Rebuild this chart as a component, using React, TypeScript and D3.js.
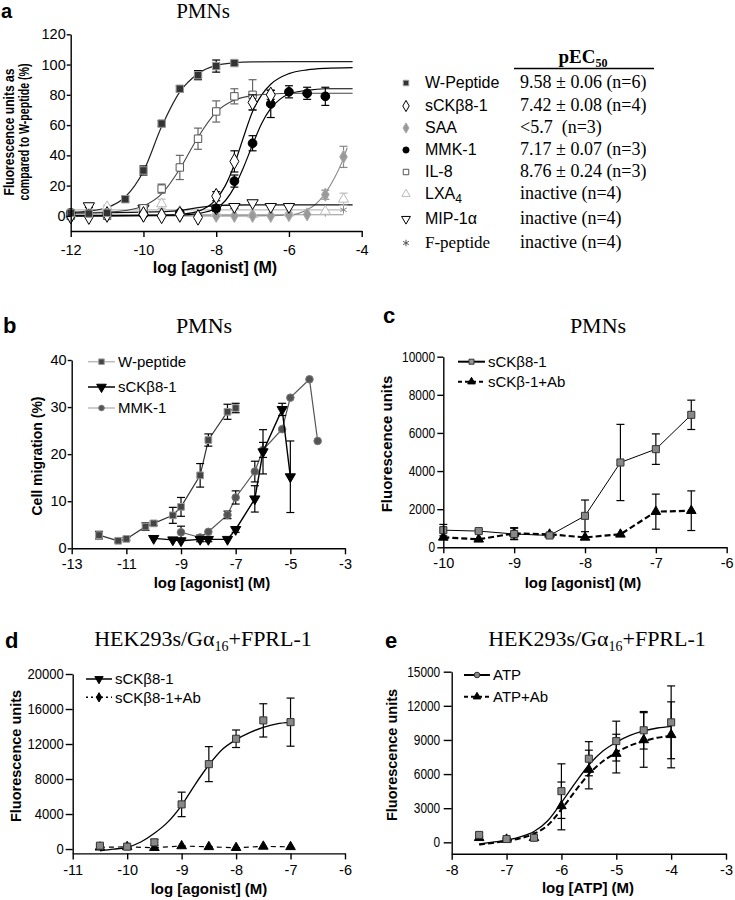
import React, { useEffect, useRef } from "react";
import * as d3 from "d3";

// points are [log dose, mean, error]; fit lines are [log dose, value]

// ---- panel a: PMNs, fluorescence as % of W-peptide ----
const aWPeptide = [[-12, 2, 0], [-11.5, 1.5, 0], [-11, 2, 0.5], [-10.5, 11, 2], [-10, 30, 3], [-9.5, 61, 2], [-9, 84, 2], [-8.5, 93, 3], [-8, 99, 4], [-7.5, 101, 1]];
const aSck = [[-12, 0, 0], [-11.5, -0.5, 0], [-11, 1, 0], [-10, 1, 0], [-9.5, 0, 0], [-9, 1, 0], [-8.5, -1, 0], [-8, 13, 3], [-7.5, 36, 7], [-7, 75, 5], [-6.5, 80, 3]];
const aSaa = [[-12, -1, 0], [-11, 0, 0], [-10, 0, 0], [-9.5, 1, 0], [-9, 0, 0], [-8.5, -0.5, 0], [-8, 0, 0], [-7.5, 0, 0], [-7, 0, 0], [-6.5, 0, 0], [-6, 0.5, 0], [-5.5, 1, 0], [-5, 14, 3], [-4.5, 39, 7]];
const aMmk = [[-12, 2, 0], [-10, 1, 0], [-9, 2, 0], [-8, 5, 2], [-7.5, 23, 4], [-7, 48, 5], [-6.5, 74, 9], [-6, 82, 4], [-5.5, 81, 4], [-5, 79, 6]];
const aIl8 = [[-12, 0, 0], [-11, 0, 0], [-10, 5, 2], [-9.5, 18, 3], [-9, 32, 8], [-8.5, 51, 7], [-8, 69, 7], [-7.5, 79, 5], [-7, 80, 10]];
const aLxa4 = [[-12, 1, 0], [-11, 6, 1], [-10, 4, 0], [-9.5, 8, 3], [-9, 3, 0], [-8, 2, 0], [-7, 1, 0], [-6, 2, 0], [-5, 3, 0], [-4.5, 11, 4]];
const aMip = [[-11.5, 6.5, 1], [-10, 5, 0], [-8, 5, 0], [-7.5, 6, 1], [-7, 8.5, 0], [-6.5, 6, 0], [-6, 6, 0]];
const aFPeptide = [[-12, 0, 0], [-11, 1, 0], [-10, 0.5, 0], [-9, 1, 0], [-8, 0, 0], [-7, 0.5, 0], [-6, 1, 0], [-5, 2, 0], [-4.5, 4, 0]];

const aWPeptideFit = [[-12, 2.4], [-11.5, 3.2], [-11, 5.5], [-10.5, 12.5], [-10, 29.5], [-9.5, 59], [-9, 82], [-8.5, 94], [-8, 99.5], [-7.5, 101.2], [-7, 101.8], [-6, 102], [-4.25, 102]];
const aIl8Fit = [[-12, 2], [-11, 2.5], [-10.5, 3.5], [-10, 6.5], [-9.5, 14.5], [-9, 31], [-8.5, 52], [-8, 68.5], [-7.5, 76.5], [-7, 79.5], [-6.5, 80.5], [-6, 81], [-4.25, 81]];
const aSckFit = [[-12, 0], [-9.5, 0.3], [-9, 1], [-8.5, 3], [-8, 11], [-7.75, 20], [-7.5, 34], [-7.25, 52], [-7, 69], [-6.75, 80], [-6.5, 87], [-6, 94], [-5.5, 96.5], [-5, 97.5], [-4.25, 98]];
const aMmkFit = [[-12, 0], [-9, 0.5], [-8.5, 1.5], [-8, 5], [-7.75, 10], [-7.5, 19], [-7.25, 32], [-7, 47], [-6.75, 61], [-6.5, 71], [-6.25, 77], [-6, 80.5], [-5.5, 83], [-5, 84], [-4.25, 84]];
const aSaaFit = [[-12, 0], [-7, 0], [-6, 0.5], [-5.75, 1.5], [-5.5, 4], [-5.25, 8], [-5, 15], [-4.75, 25], [-4.5, 38], [-4.4, 45]];
const aLxa4Fit = [[-12, 4], [-4.5, 4]];
const aMipFit = [[-12, 2], [-10, 2.5], [-9, 3.5], [-8.5, 5.5], [-8, 6.8], [-7.5, 7.2], [-4.25, 7.3]];
const aFPeptideFit = [[-12, 0.7], [-4.5, 0.7]];

const aNames = ["W-Peptide", "sCKβ8-1", "SAA", "MMK-1", "IL-8", "LXA", "MIP-1α", "F-peptide"];
const aValues = ["9.58 ± 0.06 (n=6)", "7.42 ± 0.08 (n=4)", "<5.7\u00a0 (n=3)", "7.17 ± 0.07 (n=3)", "8.76 ± 0.24 (n=3)", "inactive (n=4)", "inactive (n=4)", "inactive (n=4)"];
const aXTicks = [-12, -10, -8, -6, -4];
const aYTicks = [0, 20, 40, 60, 80, 100, 120];

// ---- panel b: PMNs, cell migration ----
const bWPeptide = [[-12, 2.8, 0.8], [-11.3, 1.6, 0.3], [-11, 2.0, 0.3], [-10.3, 4.6, 0.8], [-10, 5.3, 0.5], [-9.3, 7.0, 1.7], [-9, 8.8, 2], [-8.3, 15.5, 2.5], [-8, 23, 1.3], [-7.3, 29, 1.6], [-7, 29.8, 1]];
const bSck = [[-10, 2.1, 0], [-9.3, 1.8, 0], [-9, 1.6, 0], [-8.3, 1.9, 0.5], [-8, 1.9, 0.5], [-7.3, 1.9, 0], [-7, 4, 0.6], [-6.3, 10.5, 2.8], [-6, 20.5, 4.7], [-5.3, 29.5, 1.3], [-5, 15.2, 7.6]];
const bMmk = [[-9, 3.4, 1.3], [-8.3, 2.3, 0.5], [-8, 3.5, 0], [-7.3, 7.1, 0.8], [-7, 10.8, 1.4], [-6.3, 16.3, 2.2], [-6, 20.9, 1.6], [-5.3, 25.3, 0], [-5, 32, 0], [-4.3, 35.9, 0], [-4, 22.8, 0]];
const bNames = ["W-peptide", "sCKβ8-1", "MMK-1"];
const bXTicks = [-13, -11, -9, -7, -5, -3];
const bYTicks = [0, 10, 20, 30, 40];

// ---- panel c: PMNs, fluorescence ----
const cSck = [[-10, 900, 300], [-9.5, 850, 80], [-9, 700, 300], [-8.5, 620, 80], [-8, 1650, 830], [-7.5, 4450, 2000], [-7, 5150, 800], [-6.5, 6950, 770]];
const cSckAb = [[-10, 520, 0], [-9.5, 420, 0], [-9, 730, 300], [-8.5, 680, 0], [-8, 520, 0], [-7.5, 680, 0], [-7, 1870, 920], [-6.5, 1920, 1040]];
const cNames = ["sCKβ8-1", "sCKβ-1+Ab"];
const cXTicks = [-10, -9, -8, -7, -6];
const cYTicks = [0, 2000, 4000, 6000, 8000, 10000];

// ---- panel d: HEK293s/Ga16+FPRL-1, sCKb8-1 ----
const dSck = [[-10.5, 380, 150], [-10, 270, 100], [-9.5, 760, 350], [-9, 5100, 1400], [-8.5, 9700, 2000], [-8, 12600, 1000], [-7.5, 14700, 1900], [-7, 14500, 2750]];
const dSckFit = [[-10.5, -200], [-10.25, -20], [-10, 190], [-9.75, 800], [-9.5, 1800], [-9.25, 3100], [-9, 5000], [-8.75, 7400], [-8.5, 9600], [-8.25, 11400], [-8, 12500], [-7.75, 13300], [-7.5, 13900], [-7.25, 14300], [-7, 14500]];
const dSckAb = [[-10.5, 200, 0], [-10, 250, 0], [-9.5, 150, 0], [-9, 350, 0], [-8.5, 250, 0], [-8, 150, 0], [-7.5, 300, 0], [-7, 250, 0]];
const dNames = ["sCKβ8-1", "sCKβ8-1+Ab"];
const dXTicks = [-11, -10, -9, -8, -7, -6];
const dYTicks = [0, 4000, 8000, 12000, 16000, 20000];

// ---- panel e: HEK293s/Ga16+FPRL-1, ATP ----
const eAtp = [[-7.5, 650, 200], [-7, 290, 100], [-6.5, 400, 150], [-6, 4500, 2400], [-5.5, 7350, 1500], [-5, 8900, 1750], [-4.5, 9850, 1650], [-4, 10550, 3200]];
const eAtpAb = [[-7.5, 400, 150], [-7, 260, 100], [-6.5, 400, 150], [-6, 3200, 2100], [-5.5, 6400, 1700], [-5, 7800, 1700], [-4.5, 9000, 2400], [-4, 9450, 2900]];
const eAtpFit = [[-7.5, -150], [-7.25, 20], [-7, 200], [-6.75, 480], [-6.5, 950], [-6.25, 1900], [-6, 3500], [-5.75, 5200], [-5.5, 6800], [-5.25, 8000], [-5, 8800], [-4.75, 9400], [-4.5, 9800], [-4.25, 10050], [-4, 10200]];
const eAtpAbFit = [[-7.5, -200], [-7.25, -50], [-7, 120], [-6.75, 350], [-6.5, 750], [-6.25, 1500], [-6, 2900], [-5.75, 4500], [-5.5, 6000], [-5.25, 7100], [-5, 7900], [-4.75, 8500], [-4.5, 8900], [-4.25, 9200], [-4, 9350]];
const eNames = ["ATP", "ATP+Ab"];
const eXTicks = [-8, -7, -6, -5, -4, -3];
const eYTicks = [0, 3000, 6000, 9000, 12000, 15000];

const sans = "'Liberation Sans', Arial, Helvetica, sans-serif";
const serif = "'Liberation Serif', 'Times New Roman', Times, serif";

const symbols: any = {
  square: d3.symbolSquare,
  diamond: d3.symbolDiamond,
  circle: d3.symbolCircle,
  triangle: d3.symbolTriangle,
  triangleDown: d3.symbolTriangle,
  asterisk: d3.symbolAsterisk,
};

function marker(g: any, type: string, x: number, y: number, size: number, fill: string, stroke: string, sw = 1) {
  g.append("path")
    .attr("d", d3.symbol().type(symbols[type]).size(size)())
    .attr("transform", `translate(${x},${y})${type === "triangleDown" ? " rotate(180)" : ""}`)
    .attr("fill", fill)
    .attr("stroke", stroke)
    .attr("stroke-width", sw);
}

function axes(svg: any, x: any, y: any, xTicks: number[], yTicks: number[], o: any) {
  const gx = svg.append("g")
    .attr("transform", `translate(0,${y.range()[0]})`)
    .call(d3.axisBottom(x).tickValues(xTicks).tickSize(6).tickPadding(o.xPad).tickSizeOuter(0).tickFormat((d: any) => String(d)));
  const gy = svg.append("g")
    .attr("transform", `translate(${x.range()[0]},0)`)
    .call(d3.axisLeft(y).tickValues(yTicks).tickSize(o.yTick).tickPadding(o.yPad).tickSizeOuter(0).tickFormat((d: any) => String(d)));
  [gx, gy].forEach((g) => {
    g.select(".domain").attr("stroke", "#000").attr("stroke-width", 1.4);
    g.selectAll(".tick line").attr("stroke", "#000").attr("stroke-width", 1.4);
    g.selectAll("text").attr("font-family", sans).attr("font-size", 14.5).attr("fill", "#000");
  });
  gy.selectAll("text").attr("transform", `scale(${o.yScale},1)`);
}

function fitLine(g: any, x: any, y: any, pts: number[][], color: string, width: number, dash?: string) {
  g.append("path")
    .datum(pts)
    .attr("d", d3.line().x((d: any) => x(d[0])).y((d: any) => y(d[1])).curve(d3.curveMonotoneX))
    .attr("fill", "none")
    .attr("stroke", color)
    .attr("stroke-width", width)
    .attr("stroke-dasharray", dash || null);
}

function points(g: any, x: any, y: any, pts: number[][], m: any) {
  if (m.line) {
    g.append("path")
      .datum(pts)
      .attr("d", d3.line().x((d: any) => x(d[0])).y((d: any) => y(d[1])))
      .attr("fill", "none")
      .attr("stroke", m.line)
      .attr("stroke-width", m.lineWidth || 1.2)
      .attr("stroke-dasharray", m.dash || null);
  }
  pts.forEach((p) => {
    if (!p[2]) return;
    const px = x(p[0]);
    const y1 = y(p[1] - p[2]);
    const y2 = y(p[1] + p[2]);
    g.append("line").attr("x1", px).attr("x2", px).attr("y1", y1).attr("y2", y2).attr("stroke", m.err || "#000").attr("stroke-width", 1.2);
    [y1, y2].forEach((yy) => {
      g.append("line").attr("x1", px - 4).attr("x2", px + 4).attr("y1", yy).attr("y2", yy).attr("stroke", m.err || "#000").attr("stroke-width", 1.2);
    });
  });
  pts.forEach((p) => marker(g, m.type, x(p[0]), y(p[1]), m.size, m.fill, m.stroke, m.sw || 1));
}

function title(svg: any, cx: number, y: number, text: string, size: number) {
  svg.append("text").attr("x", cx).attr("y", y).attr("text-anchor", "middle")
    .attr("font-family", serif).attr("font-size", size).text(text);
}

function hekTitle(svg: any, cx: number, y: number) {
  const t = svg.append("text").attr("x", cx).attr("y", y).attr("text-anchor", "middle")
    .attr("font-family", serif).attr("font-size", 22);
  t.append("tspan").text("HEK293s/Gα");
  t.append("tspan").attr("dy", 5).attr("font-size", 14).text("16");
  t.append("tspan").attr("dy", -5).text("+FPRL-1");
}

function letter(svg: any, x: number, y: number, s: string, size = 22) {
  svg.append("text").attr("x", x).attr("y", y).attr("font-family", sans).attr("font-weight", "bold").attr("font-size", size).text(s);
}

function xLabel(svg: any, cx: number, y: number, s: string, size: number) {
  svg.append("text").attr("x", cx).attr("y", y).attr("text-anchor", "middle")
    .attr("font-family", sans).attr("font-weight", "bold").attr("font-size", size).text(s);
}

function yLabel(svg: any, bx: number, cy: number, s: string, size: number, len?: number) {
  const t = svg.append("text").attr("transform", `translate(${bx},${cy}) rotate(-90)`).attr("text-anchor", "middle")
    .attr("font-family", sans).attr("font-weight", "bold").attr("font-size", size).text(s);
  if (len) t.attr("textLength", len).attr("lengthAdjust", "spacingAndGlyphs");
}

function legendRow(svg: any, x1: number, x2: number, cy: number, text: string, m: any) {
  svg.append("line").attr("x1", x1).attr("x2", x2).attr("y1", cy).attr("y2", cy)
    .attr("stroke", m.line).attr("stroke-width", m.lineWidth || 1.5).attr("stroke-dasharray", m.dash || null);
  marker(svg, m.type, (x1 + x2) / 2, cy, m.size, m.fill, m.stroke, m.sw || 1);
  svg.append("text").attr("x", x2 + 3).attr("y", cy + 5.4).attr("font-family", sans).attr("font-size", 15).text(text);
}

function App() {
  const ref = useRef<SVGSVGElement>(null);

  useEffect(() => {
    const svg = d3.select(ref.current);
    svg.selectAll("*").remove();

    // ===== panel a =====
    const ax = d3.scaleLinear().domain([-12, -4]).range([70.7, 361.7]);
    const ay = d3.scaleLinear().domain([-10, 120]).range([231, 34.3]);
    const ga = svg.append("g");
    fitLine(ga, ax, ay, aFPeptideFit, "#999", 1.1);
    fitLine(ga, ax, ay, aLxa4Fit, "#bbb", 1.3);
    fitLine(ga, ax, ay, aSaaFit, "#888", 1.1);
    fitLine(ga, ax, ay, aMipFit, "#111", 1.3);
    fitLine(ga, ax, ay, aMmkFit, "#000", 1.2);
    fitLine(ga, ax, ay, aSckFit, "#000", 1.2);
    fitLine(ga, ax, ay, aIl8Fit, "#444", 1.1);
    fitLine(ga, ax, ay, aWPeptideFit, "#222", 1.2);
    points(ga, ax, ay, aFPeptide, { type: "asterisk", size: 40, fill: "none", stroke: "#888", err: "#888" });
    points(ga, ax, ay, aLxa4, { type: "triangle", size: 45, fill: "#fff", stroke: "#bbb", err: "#bbb" });
    points(ga, ax, ay, aSaa, { type: "diamond", size: 50, fill: "#999", stroke: "#aaa", err: "#888" });
    points(ga, ax, ay, aMip, { type: "triangleDown", size: 55, fill: "#fff", stroke: "#000", err: "#000" });
    points(ga, ax, ay, aIl8, { type: "square", size: 55, fill: "#fff", stroke: "#555", err: "#666" });
    points(ga, ax, ay, aMmk, { type: "circle", size: 60, fill: "#000", stroke: "#000" });
    points(ga, ax, ay, aSck, { type: "diamond", size: 70, fill: "#fff", stroke: "#000" });
    points(ga, ax, ay, aWPeptide, { type: "square", size: 55, fill: "#333", stroke: "#999" });
    axes(svg, ax, ay, aXTicks, aYTicks, { xPad: 8, yTick: 4, yPad: 1, yScale: 1 });
    letter(svg, 1, 18, "a", 20);
    title(svg, 203, 18, "PMNs", 21);
    xLabel(svg, 215, 273, "log [agonist] (M)", 16);
    yLabel(svg, 13.5, 132, "Fluorescence units as", 14, 127);
    yLabel(svg, 28.5, 132, "compared to W-peptide (%)", 14, 137);

    // legend table for a
    const rowsY = [88, 111, 133, 155, 177, 199, 224, 248];
    const legendMarks = [
      { type: "square", size: 30, fill: "#333", stroke: "#999" },
      { type: "diamond", size: 36, fill: "#fff", stroke: "#000" },
      { type: "diamond", size: 30, fill: "#999", stroke: "#aaa" },
      { type: "circle", size: 30, fill: "#000", stroke: "#000" },
      { type: "square", size: 30, fill: "#fff", stroke: "#555" },
      { type: "triangle", size: 30, fill: "#fff", stroke: "#bbb" },
      { type: "triangleDown", size: 34, fill: "#fff", stroke: "#000" },
      { type: "asterisk", size: 30, fill: "none", stroke: "#555" },
    ];
    const hdr = svg.append("text").attr("x", 583).attr("y", 63).attr("text-anchor", "middle")
      .attr("font-family", serif).attr("font-weight", "bold").attr("font-size", 19);
    hdr.append("tspan").text("pEC");
    hdr.append("tspan").attr("dy", 4).attr("font-size", 12).text("50");
    svg.append("line").attr("x1", 514).attr("x2", 654).attr("y1", 68.5).attr("y2", 68.5).attr("stroke", "#000").attr("stroke-width", 1.6);
    aNames.forEach((name, i) => {
      const rowY = rowsY[i];
      const m = legendMarks[i];
      marker(svg, m.type, 406, rowY - 5, m.size, m.fill, m.stroke, 1);
      const isSerif = name === "F-peptide";
      const t = svg.append("text").attr("x", 425).attr("y", rowY)
        .attr("font-family", isSerif ? serif : sans).attr("font-size", isSerif ? 17 : 16).text(name);
      if (name === "LXA") t.append("tspan").attr("dy", 4).attr("font-size", 12).text("4");
      svg.append("text").attr("x", 520).attr("y", rowY).attr("font-family", serif).attr("font-size", 18)
        .style("white-space", "pre").text(aValues[i]);
    });

    // ===== panel b =====
    const bx = d3.scaleLinear().domain([-13, -3]).range([71.7, 345]);
    const by = d3.scaleLinear().domain([0, 40]).range([548.3, 360]);
    const gb = svg.append("g");
    points(gb, bx, by, bMmk, { type: "circle", size: 45, fill: "#555", stroke: "#777", line: "#555", lineWidth: 1.2 });
    points(gb, bx, by, bSck, { type: "triangleDown", size: 45, fill: "#000", stroke: "#000", line: "#000", lineWidth: 1.4 });
    points(gb, bx, by, bWPeptide, { type: "square", size: 45, fill: "#444", stroke: "#999", line: "#333", lineWidth: 1.2 });
    axes(svg, bx, by, bXTicks, bYTicks, { xPad: 4, yTick: 4, yPad: 1, yScale: 1 });
    letter(svg, 3, 333, "b");
    title(svg, 204, 333, "PMNs", 22);
    xLabel(svg, 212, 588, "log [agonist] (M)", 15);
    yLabel(svg, 42, 456, "Cell migration (%)", 14);
    legendRow(svg, 88, 115, 361.7, bNames[0], { type: "square", size: 30, fill: "#444", stroke: "#999", line: "#bbb" });
    legendRow(svg, 88, 115, 387, bNames[1], { type: "triangleDown", size: 40, fill: "#000", stroke: "#000", line: "#000" });
    legendRow(svg, 88, 115, 408, bNames[2], { type: "circle", size: 25, fill: "#555", stroke: "#777", line: "#bbb" });

    // ===== panel c =====
    const cxs = d3.scaleLinear().domain([-10, -6]).range([443.3, 726.7]);
    const cys = d3.scaleLinear().domain([0, 10000]).range([547.3, 356.7]);
    const gc = svg.append("g");
    points(gc, cxs, cys, cSckAb, { type: "triangle", size: 40, fill: "#000", stroke: "#000", line: "#000", lineWidth: 2.2, dash: "6,3" });
    points(gc, cxs, cys, cSck, { type: "square", size: 50, fill: "#888", stroke: "#333", line: "#000", lineWidth: 1 });
    axes(svg, cxs, cys, cXTicks, cYTicks, { xPad: 4, yTick: 6, yPad: 4, yScale: 0.82 });
    letter(svg, 383, 323, "c");
    title(svg, 598, 333, "PMNs", 22);
    xLabel(svg, 583, 588, "log [agonist] (M)", 15);
    yLabel(svg, 392, 444, "Fluorescence units", 15);
    legendRow(svg, 458, 485, 361.7, cNames[0], { type: "square", size: 25, fill: "#999", stroke: "#333", line: "#000", lineWidth: 2 });
    legendRow(svg, 458, 485, 381.7, cNames[1], { type: "triangle", size: 25, fill: "#000", stroke: "#000", line: "#000", lineWidth: 2, dash: "4,3" });

    // ===== panel d =====
    const dxs = d3.scaleLinear().domain([-11, -6]).range([72.7, 345]);
    const dys = d3.scaleLinear().domain([-500, 20000]).range([853.4, 674]);
    const gd = svg.append("g");
    fitLine(gd, dxs, dys, dSckFit, "#000", 1.3);
    points(gd, dxs, dys, dSckAb, { type: "triangle", size: 40, fill: "#000", stroke: "#000", line: "#000", lineWidth: 1.2, dash: "5,4" });
    points(gd, dxs, dys, dSck, { type: "square", size: 50, fill: "#888", stroke: "#333" });
    axes(svg, dxs, dys, dXTicks, dYTicks, { xPad: 5, yTick: 7, yPad: 3, yScale: 0.9 });
    letter(svg, 5, 648, "d");
    hekTitle(svg, 203, 646);
    xLabel(svg, 209, 894, "log [agonist] (M)", 15);
    yLabel(svg, 20.5, 756, "Fluorescence units", 14.5);
    legendRow(svg, 86, 112, 679, dNames[0], { type: "triangleDown", size: 30, fill: "#000", stroke: "#000", line: "#000", lineWidth: 1.5 });
    legendRow(svg, 86, 112, 697.3, dNames[1], { type: "diamond", size: 25, fill: "#000", stroke: "#000", line: "#000", lineWidth: 1.5, dash: "2,3" });

    // ===== panel e =====
    const exs = d3.scaleLinear().domain([-8, -3]).range([451.7, 726]);
    const eys = d3.scaleLinear().domain([-1000, 15000]).range([853.7, 671.7]);
    const ge = svg.append("g");
    fitLine(ge, exs, eys, eAtpFit, "#000", 1.3);
    fitLine(ge, exs, eys, eAtpAbFit, "#000", 2, "6,3");
    points(ge, exs, eys, eAtpAb, { type: "triangle", size: 40, fill: "#000", stroke: "#000" });
    points(ge, exs, eys, eAtp, { type: "square", size: 50, fill: "#888", stroke: "#333" });
    axes(svg, exs, eys, eXTicks, eYTicks, { xPad: 5, yTick: 8, yPad: 6, yScale: 0.82 });
    letter(svg, 385, 648, "e");
    hekTitle(svg, 597, 646);
    xLabel(svg, 588, 893, "log [ATP] (M)", 15);
    yLabel(svg, 397, 755, "Fluorescence units", 14.5);
    legendRow(svg, 464, 490, 675, eNames[0], { type: "circle", size: 25, fill: "#888", stroke: "#333", line: "#000", lineWidth: 2 });
    legendRow(svg, 464, 490, 696.7, eNames[1], { type: "triangle", size: 25, fill: "#000", stroke: "#000", line: "#000", lineWidth: 2, dash: "4,3" });
  }, []);

  return (
    <svg ref={ref} width={735} height={900} style={{ position: "absolute", left: 0, top: 0, background: "#fff" }} />
  );
}

export default App;
